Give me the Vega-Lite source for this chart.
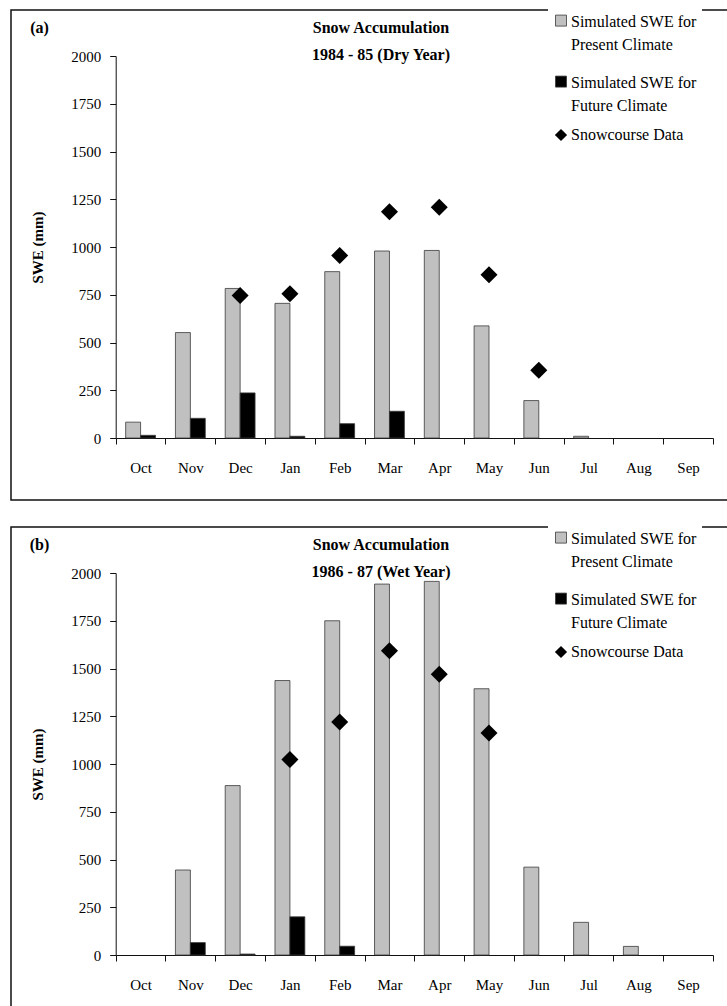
{
  "$schema": "https://vega.github.io/schema/vega-lite/v6.json",
  "background": "white",
  "padding": {"left": 10, "top": 0, "right": 0, "bottom": 0},
  "spacing": 16,
  "config": {
    "font": "Liberation Serif",
    "view": {"stroke": "#111111", "strokeWidth": 1.5},
    "axis": {"grid": false, "domainColor": "#111111", "domainWidth": 1, "tickColor": "#111111", "tickWidth": 1, "labelColor": "#000000", "labelFont": "Liberation Serif", "labelFontSize": 15, "titleFont": "Liberation Serif", "titleColor": "#000000", "titleFontSize": 15, "titleFontWeight": "bold"},
    "legend": {"labelFont": "Liberation Serif", "labelFontSize": 16, "labelColor": "#000000"},
    "title": {"font": "Liberation Serif", "fontSize": 16, "fontWeight": "bold", "color": "#000000"},
    "style": {"guide-label": {"lineHeight": 23}}
  },
  "data": {"values": [
    {"panel": "a", "month": "Oct", "series": "Present", "swe": 83},
    {"panel": "a", "month": "Nov", "series": "Present", "swe": 552},
    {"panel": "a", "month": "Dec", "series": "Present", "swe": 783},
    {"panel": "a", "month": "Jan", "series": "Present", "swe": 705},
    {"panel": "a", "month": "Feb", "series": "Present", "swe": 871},
    {"panel": "a", "month": "Mar", "series": "Present", "swe": 979},
    {"panel": "a", "month": "Apr", "series": "Present", "swe": 982},
    {"panel": "a", "month": "May", "series": "Present", "swe": 587},
    {"panel": "a", "month": "Jun", "series": "Present", "swe": 196},
    {"panel": "a", "month": "Jul", "series": "Present", "swe": 9},
    {"panel": "a", "month": "Oct", "series": "Future", "swe": 14},
    {"panel": "a", "month": "Nov", "series": "Future", "swe": 103},
    {"panel": "a", "month": "Dec", "series": "Future", "swe": 236},
    {"panel": "a", "month": "Jan", "series": "Future", "swe": 9},
    {"panel": "a", "month": "Feb", "series": "Future", "swe": 75},
    {"panel": "a", "month": "Mar", "series": "Future", "swe": 140},
    {"panel": "a", "month": "Dec", "series": "Snowcourse", "swe": 746},
    {"panel": "a", "month": "Jan", "series": "Snowcourse", "swe": 755},
    {"panel": "a", "month": "Feb", "series": "Snowcourse", "swe": 955},
    {"panel": "a", "month": "Mar", "series": "Snowcourse", "swe": 1185},
    {"panel": "a", "month": "Apr", "series": "Snowcourse", "swe": 1208},
    {"panel": "a", "month": "May", "series": "Snowcourse", "swe": 855},
    {"panel": "a", "month": "Jun", "series": "Snowcourse", "swe": 355},
    {"panel": "b", "month": "Nov", "series": "Present", "swe": 445},
    {"panel": "b", "month": "Dec", "series": "Present", "swe": 887},
    {"panel": "b", "month": "Jan", "series": "Present", "swe": 1437},
    {"panel": "b", "month": "Feb", "series": "Present", "swe": 1750},
    {"panel": "b", "month": "Mar", "series": "Present", "swe": 1942},
    {"panel": "b", "month": "Apr", "series": "Present", "swe": 1956},
    {"panel": "b", "month": "May", "series": "Present", "swe": 1394},
    {"panel": "b", "month": "Jun", "series": "Present", "swe": 460},
    {"panel": "b", "month": "Jul", "series": "Present", "swe": 171},
    {"panel": "b", "month": "Aug", "series": "Present", "swe": 45},
    {"panel": "b", "month": "Nov", "series": "Future", "swe": 65},
    {"panel": "b", "month": "Dec", "series": "Future", "swe": 5},
    {"panel": "b", "month": "Jan", "series": "Future", "swe": 200},
    {"panel": "b", "month": "Feb", "series": "Future", "swe": 46},
    {"panel": "b", "month": "Jan", "series": "Snowcourse", "swe": 1023},
    {"panel": "b", "month": "Feb", "series": "Snowcourse", "swe": 1220},
    {"panel": "b", "month": "Mar", "series": "Snowcourse", "swe": 1593},
    {"panel": "b", "month": "Apr", "series": "Snowcourse", "swe": 1470},
    {"panel": "b", "month": "May", "series": "Snowcourse", "swe": 1162}
  ]},
  "resolve": {"scale": {"x": "independent", "y": "independent", "color": "independent", "shape": "independent"}},
  "vconcat": [
    {
      "width": 740, "height": 490,
      "title": {"text": ["Snow Accumulation", "1984 - 85 (Dry Year)"], "anchor": "middle", "baseline": "middle", "offset": -70, "lineHeight": 27},
      "transform": [{"filter": "datum.panel == 'a'"}],
      "layer": [
        {
          "transform": [{"filter": "datum.series != 'Snowcourse'"}],
          "mark": {"type": "bar", "stroke": "#3a3a3a", "strokeWidth": 0.8, "opacity": 1},
          "encoding": {
            "x": {"field": "month", "type": "nominal", "scale": {"domain": ["Oct","Nov","Dec","Jan","Feb","Mar","Apr","May","Jun","Jul","Aug","Sep"], "range": [104.7, 702], "paddingInner": 0, "paddingOuter": 0},
                  "axis": {"title": "(a)", "titleX": 28, "titleY": -411, "titleAngle": 0, "titleAlign": "center", "titleBaseline": "middle", "titleFontSize": 16, "labelAngle": 0, "labelPadding": 16, "tickSize": 6, "tickBand": "extent", "offset": -62}},
            "xOffset": {"field": "series", "type": "nominal", "scale": {"domain": ["Present","Future"], "paddingInner": 0, "paddingOuter": 0.667}},
            "y": {"field": "swe", "type": "quantitative", "scale": {"domain": [0,2000], "range": [428,46], "nice": false},
                  "axis": {"title": "SWE (mm)", "format": "d", "values": [0,250,500,750,1000,1250,1500,1750,2000], "offset": -104.7, "tickSize": 6, "labelPadding": 9, "titlePadding": 25}},
            "color": {"field": "series", "type": "nominal", "scale": {"domain": ["Present","Future"], "range": ["#c0c0c0","#000000"]},
                      "legend": {"title": null, "orient": "none", "legendX": 537, "legendY": -9, "fillColor": "white", "padding": 5, "symbolSize": 121, "symbolType": "M-1,0.2L1,0.2L1,2.2L-1,2.2Z", "rowPadding": 14, "labelOffset": 2, "labelLimit": 400, "labelBaseline": "top", "symbolStrokeColor": "#3a3a3a", "symbolStrokeWidth": 0.8,
                                 "labelExpr": "datum.value == 'Present' ? ['Simulated SWE for', 'Present Climate'] : ['Simulated SWE for', 'Future Climate']"}}
          }
        },
        {
          "transform": [{"filter": "datum.series == 'Snowcourse'"}],
          "mark": {"type": "point", "filled": true, "size": 290, "opacity": 1, "color": "#000000"},
          "encoding": {
            "x": {"field": "month", "type": "nominal"},
            "y": {"field": "swe", "type": "quantitative"},
            "shape": {"field": "series", "type": "nominal", "scale": {"domain": ["Snowcourse"], "range": ["diamond"]},
                      "legend": {"title": null, "orient": "none", "legendX": 537, "legendY": 112, "fillColor": "white", "padding": 5, "symbolSize": 150, "symbolFillColor": "#000000", "symbolStrokeColor": "#000000", "labelOffset": 2, "labelLimit": 400, "labelBaseline": "middle",
                                 "labelExpr": "'Snowcourse Data'"}}
          }
        }
      ]
    },
    {
      "width": 740, "height": 490,
      "title": {"text": ["Snow Accumulation", "1986 - 87 (Wet Year)"], "anchor": "middle", "baseline": "middle", "offset": -70, "lineHeight": 27},
      "transform": [{"filter": "datum.panel == 'b'"}],
      "layer": [
        {
          "transform": [{"filter": "datum.series != 'Snowcourse'"}],
          "mark": {"type": "bar", "stroke": "#3a3a3a", "strokeWidth": 0.8, "opacity": 1},
          "encoding": {
            "x": {"field": "month", "type": "nominal", "scale": {"domain": ["Oct","Nov","Dec","Jan","Feb","Mar","Apr","May","Jun","Jul","Aug","Sep"], "range": [104.7, 702], "paddingInner": 0, "paddingOuter": 0},
                  "axis": {"title": "(b)", "titleX": 28, "titleY": -411, "titleAngle": 0, "titleAlign": "center", "titleBaseline": "middle", "titleFontSize": 16, "labelAngle": 0, "labelPadding": 16, "tickSize": 6, "tickBand": "extent", "offset": -62}},
            "xOffset": {"field": "series", "type": "nominal", "scale": {"domain": ["Present","Future"], "paddingInner": 0, "paddingOuter": 0.667}},
            "y": {"field": "swe", "type": "quantitative", "scale": {"domain": [0,2000], "range": [428,46], "nice": false},
                  "axis": {"title": "SWE (mm)", "format": "d", "values": [0,250,500,750,1000,1250,1500,1750,2000], "offset": -104.7, "tickSize": 6, "labelPadding": 9, "titlePadding": 25}},
            "color": {"field": "series", "type": "nominal", "scale": {"domain": ["Present","Future"], "range": ["#c0c0c0","#000000"]},
                      "legend": {"title": null, "orient": "none", "legendX": 537, "legendY": -9, "fillColor": "white", "padding": 5, "symbolSize": 121, "symbolType": "M-1,0.2L1,0.2L1,2.2L-1,2.2Z", "rowPadding": 14, "labelOffset": 2, "labelLimit": 400, "labelBaseline": "top", "symbolStrokeColor": "#3a3a3a", "symbolStrokeWidth": 0.8,
                                 "labelExpr": "datum.value == 'Present' ? ['Simulated SWE for', 'Present Climate'] : ['Simulated SWE for', 'Future Climate']"}}
          }
        },
        {
          "transform": [{"filter": "datum.series == 'Snowcourse'"}],
          "mark": {"type": "point", "filled": true, "size": 290, "opacity": 1, "color": "#000000"},
          "encoding": {
            "x": {"field": "month", "type": "nominal"},
            "y": {"field": "swe", "type": "quantitative"},
            "shape": {"field": "series", "type": "nominal", "scale": {"domain": ["Snowcourse"], "range": ["diamond"]},
                      "legend": {"title": null, "orient": "none", "legendX": 537, "legendY": 112, "fillColor": "white", "padding": 5, "symbolSize": 150, "symbolFillColor": "#000000", "symbolStrokeColor": "#000000", "labelOffset": 2, "labelLimit": 400, "labelBaseline": "middle",
                                 "labelExpr": "'Snowcourse Data'"}}
          }
        }
      ]
    }
  ]
}
